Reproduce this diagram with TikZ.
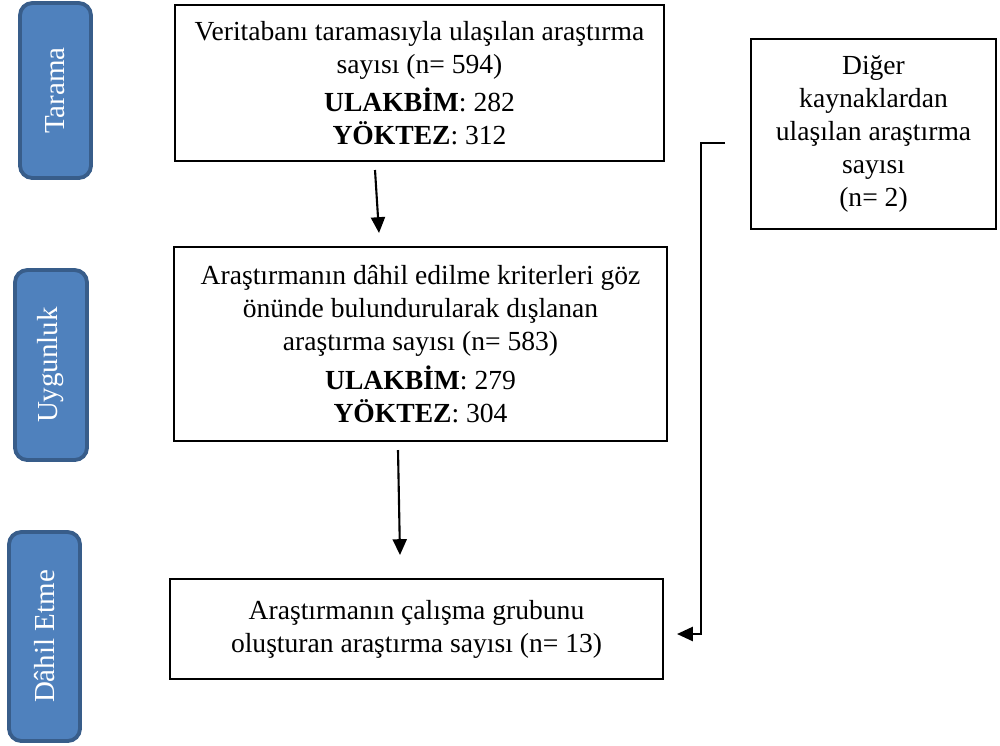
\documentclass[tikz,border=0pt]{standalone}
\usepackage{fontspec}
\setmainfont{Liberation Serif}
\usetikzlibrary{arrows.meta,positioning}
\definecolor{phasefill}{HTML}{4F81BD}
\definecolor{phaseline}{HTML}{385D8A}

\begin{document}
\begin{tikzpicture}[
  x=0.02cm, y=-0.02cm,
  >={Triangle[length=9pt, width=8pt]},
  box/.style={draw, line width=1.2pt, align=center, inner sep=0pt, font=\fontsize{15.7}{18.8}\selectfont},
  phase/.style={draw=phaseline, fill=phasefill, line width=2.2pt, rounded corners=7pt,
    text=white, rotate=90, inner sep=0pt, minimum height=1.42cm, font=\fontsize{16.5}{18}\selectfont},
  arr/.style={->, line width=1.2pt}
]
\useasboundingbox (0,0) rectangle (1000,745);

% Phases (left column)
\node[phase, minimum width=3.5cm]  (ptarama) at (55.5, 90.5) {Tarama};
\node[phase, minimum width=3.8cm, minimum height=1.44cm] (puygun) at (51, 365) {Uygunluk};
\node[phase, minimum width=4.18cm] (pdahil) at (44.5, 636.5) {Dâhil Etme};

% Boxes
\node[box, minimum width=9.78cm, minimum height=3.12cm] (scan) at (419.5, 83)
  {Veritabanı taramasıyla ulaşılan araştırma\\ sayısı (n= 594)\\[3pt]
   \textbf{ULAKBİM}: 282\\ \textbf{YÖKTEZ}: 312};
\node[box, minimum width=9.86cm, minimum height=3.88cm] (elig) at (420.5, 344)
  {Araştırmanın dâhil edilme kriterleri göz\\ önünde bulundurularak dışlanan\\ araştırma sayısı (n= 583)\\[3pt]
   \textbf{ULAKBİM}: 279\\ \textbf{YÖKTEZ}: 304};
\node[box, minimum width=9.86cm, minimum height=2cm] (incl) at (416.5, 629)
  {Araştırmanın çalışma grubunu\\ oluşturan araştırma sayısı (n= 13)};
\node[box, minimum width=4.9cm, minimum height=3.8cm] (other) at (873.5, 134)
  {Diğer\\ kaynaklardan\\ ulaşılan araştırma\\ sayısı\\ (n= 2)};

% Arrow ends
\coordinate (a1s) at (375, 170);
\coordinate (a1e) at (379, 233);
\coordinate (a2s) at (398, 450);
\coordinate (a2e) at (400, 555);
\coordinate (a3s) at (725, 143);
\coordinate (a3e) at (677, 634);

% Arrows
\draw[arr] (a1s) -- (a1e);
\draw[arr] (a2s) -- (a2e);
\draw[arr] (a3s) -- (701, 143) |- (a3e);

\end{tikzpicture}
\end{document}
